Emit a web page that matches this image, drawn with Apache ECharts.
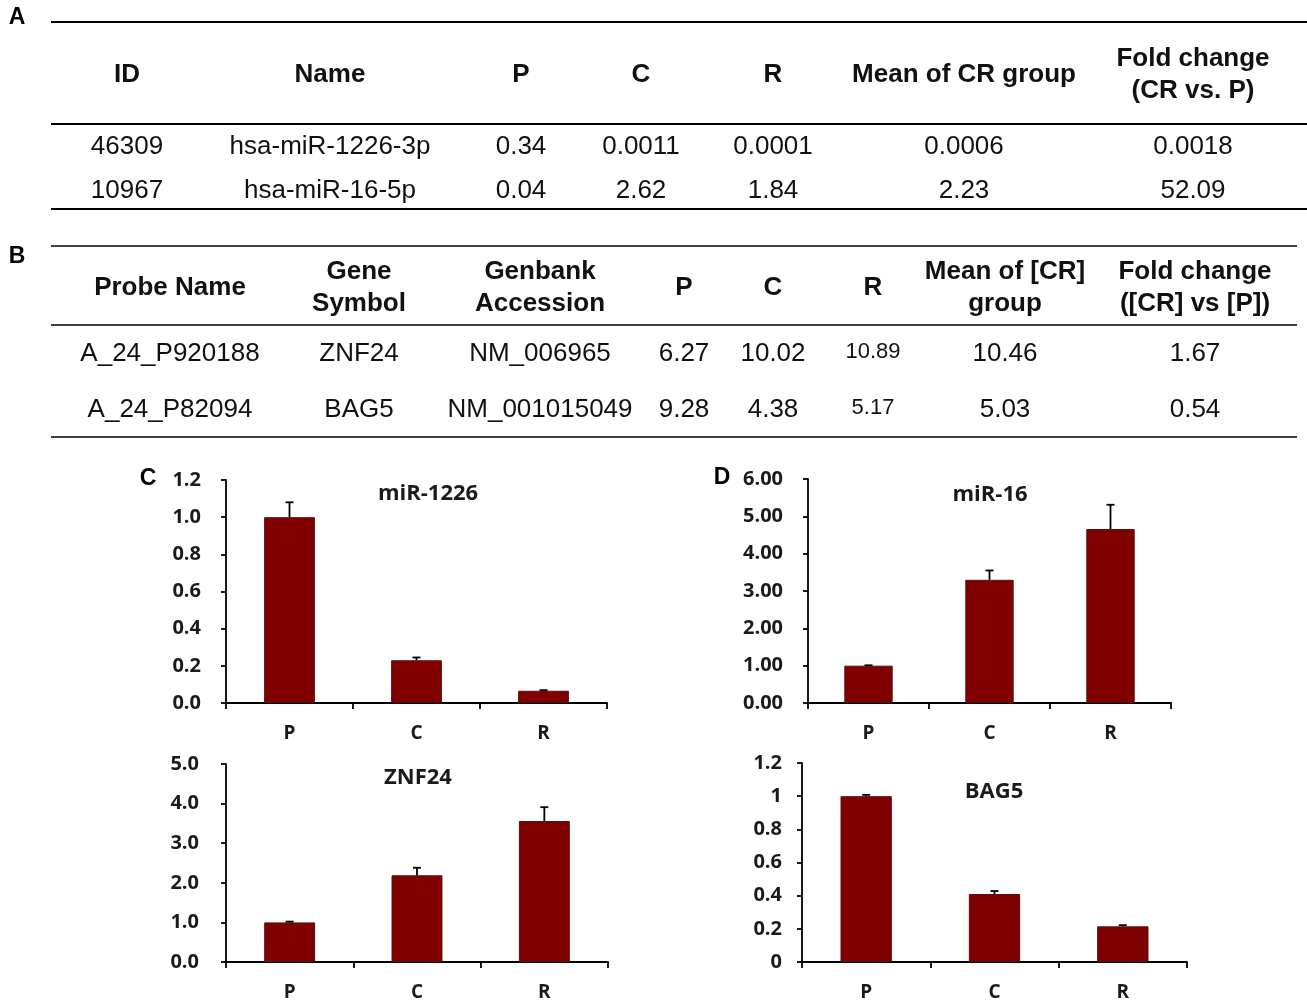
<!DOCTYPE html>
<html>
<head>
<meta charset="utf-8">
<script src="https://cdn.jsdelivr.net/npm/echarts@6/dist/echarts.min.js"></script>
<style>html,body{margin:0;padding:0;background:#fff}#main{width:1307px;height:1002px}</style>
</head>
<body>
<div id="main"></div>
<script>
// ---------- DATA ----------
const categories = ['P', 'C', 'R'];

const mir1226Values = [1.0, 0.23, 0.066];
const mir1226Errors = [0.08, 0.015, 0.003];

const mir16Values = [1.0, 3.30, 4.66];
const mir16Errors = [0.01, 0.25, 0.65];

const znf24Values = [1.0, 2.19, 3.56];
const znf24Errors = [0.02, 0.19, 0.35];

const bag5Values = [1.0, 0.41, 0.215];
const bag5Errors = [0.008, 0.018, 0.007];

const chartTitles = ['miR-1226', 'miR-16', 'ZNF24', 'BAG5'];

const tableAHeader = ['ID', 'Name', 'P', 'C', 'R', 'Mean of CR group', 'Fold change\n(CR vs. P)'];
const tableARow1 = ['46309', 'hsa-miR-1226-3p', '0.34', '0.0011', '0.0001', '0.0006', '0.0018'];
const tableARow2 = ['10967', 'hsa-miR-16-5p', '0.04', '2.62', '1.84', '2.23', '52.09'];

const tableBHeader = ['Probe Name', 'Gene\nSymbol', 'Genbank\nAccession', 'P', 'C', 'R', 'Mean of [CR]\ngroup', 'Fold change\n([CR] vs [P])'];
const tableBRow1 = ['A_24_P920188', 'ZNF24', 'NM_006965', '6.27', '10.02', '10.89', '10.46', '1.67'];
const tableBRow2 = ['A_24_P82094', 'BAG5', 'NM_001015049', '9.28', '4.38', '5.17', '5.03', '0.54'];

// ---------- LAYOUT ----------
const tableACols = [127, 330, 521, 641, 773, 964, 1193];
const tableBCols = [170, 359, 540, 684, 773, 873, 1005, 1195];
const smallColB = 5; // R column drawn in a smaller font

const FONT_T = '"Liberation Sans", Arial, Helvetica, sans-serif';
const FONT_C = '"Open Sans", "Noto Sans", sans-serif';
const BAR = '#800000';
const TXT = '#111';

const graphics = [];
function txt(s, x, y, size, bold, lh) {
  graphics.push({
    type: 'text', silent: true,
    style: {
      text: s, x: x, y: y, align: 'center', verticalAlign: 'middle',
      fontFamily: FONT_T, fontSize: size, fontWeight: bold ? 'bold' : 'normal',
      lineHeight: lh || size * 1.2, fill: TXT
    }
  });
}
function hline(x1, x2, y, w) {
  graphics.push({ type: 'line', silent: true, shape: { x1: x1, y1: y, x2: x2, y2: y }, style: { stroke: '#000', lineWidth: w || 2 } });
}
function letter(s, x, y) {
  graphics.push({ type: 'text', silent: true, style: { text: s, x: x, y: y, align: 'center', verticalAlign: 'middle', fontFamily: FONT_T, fontSize: 23, fontWeight: 'bold', fill: '#000' } });
}
// Table A
letter('A', 17, 18);
hline(51, 1307, 22, 2);
hline(51, 1307, 124, 2);
hline(51, 1307, 209, 2);
tableAHeader.forEach((h, i) => txt(h, tableACols[i], 75, 26, true, 32));
tableARow1.forEach((h, i) => txt(h, tableACols[i], 147, 26, false));
tableARow2.forEach((h, i) => txt(h, tableACols[i], 191, 26, false));
// Table B
letter('B', 17, 257);
hline(51, 1297, 246, 1.5);
hline(51, 1297, 325, 1.5);
hline(51, 1297, 437, 1.5);
tableBHeader.forEach((h, i) => txt(h, tableBCols[i], 288, 26, true, 32));
tableBRow1.forEach((h, i) => txt(h, tableBCols[i], i === smallColB ? 352 : 354, i === smallColB ? 22 : 26, false));
tableBRow2.forEach((h, i) => txt(h, tableBCols[i], i === smallColB ? 408 : 410, i === smallColB ? 22 : 26, false));
// Panel letters
letter('C', 148, 479);
letter('D', 722, 478);

const grids = [
  { left: 226, top: 480, width: 381, height: 223 },
  { left: 808, top: 479, width: 363, height: 224 },
  { left: 226, top: 764, width: 382, height: 199 },
  { left: 802, top: 763, width: 385, height: 200 }
];
const yCfg = [
  { max: 1.2, interval: 0.2, fmt: v => v.toFixed(1), margin: 25 },
  { max: 6, interval: 1, fmt: v => v.toFixed(2), margin: 25 },
  { max: 5, interval: 1, fmt: v => v.toFixed(1), margin: 27 },
  { max: 1.2, interval: 0.2, fmt: v => String(Math.round(v * 10) / 10), margin: 20 }
];
const titlePos = [[423, 493], [985, 494], [413, 777], [989, 791]];
const allValues = [mir1226Values, mir16Values, znf24Values, bag5Values];
const allErrors = [mir1226Errors, mir16Errors, znf24Errors, bag5Errors];

const axisLineStyle = { color: '#000', width: 1.8 };

const xAxes = grids.map((g, i) => ({
  type: 'category', gridIndex: i, data: categories,
  axisLine: { lineStyle: axisLineStyle },
  axisTick: { show: true, alignWithLabel: false, length: 6, lineStyle: axisLineStyle },
  axisLabel: { color: '#1a1a1a', fontFamily: FONT_C, fontWeight: 'bold', fontSize: 19, margin: 21 },
  splitLine: { show: false }
}));
const yAxes = grids.map((g, i) => ({
  type: 'value', gridIndex: i, min: 0, max: yCfg[i].max, interval: yCfg[i].interval,
  axisLine: { show: true, lineStyle: axisLineStyle },
  axisTick: { show: true, length: 5, lineStyle: axisLineStyle },
  axisLabel: { color: '#1a1a1a', fontFamily: FONT_C, fontWeight: 'bold', fontSize: 20, margin: yCfg[i].margin, formatter: yCfg[i].fmt },
  splitLine: { show: false }
}));

const series = [];
allValues.forEach((vals, i) => {
  series.push({
    type: 'bar', xAxisIndex: i, yAxisIndex: i, data: vals, barWidth: '40%',
    itemStyle: { color: BAR, borderColor: '#5a1010', borderWidth: 1 },
    silent: true, animation: false
  });
  series.push({
    type: 'custom', xAxisIndex: i, yAxisIndex: i, silent: true, animation: false, z: 5,
    data: vals.map((v, k) => [k, v, allErrors[i][k]]),
    renderItem: function (params, api) {
      const x = api.value(0), v = api.value(1), e = api.value(2);
      const p0 = api.coord([x, v]);
      const p1 = api.coord([x, v + e]);
      const cap = 4;
      return {
        type: 'group',
        children: [
          { type: 'line', shape: { x1: p0[0], y1: p0[1], x2: p1[0], y2: p1[1] }, style: { stroke: '#000', lineWidth: 1.8 } },
          { type: 'line', shape: { x1: p1[0] - cap, y1: p1[1], x2: p1[0] + cap, y2: p1[1] }, style: { stroke: '#000', lineWidth: 1.8 } }
        ]
      };
    }
  });
});

const titles = chartTitles.map((t, i) => ({
  text: t, left: titlePos[i][0], top: titlePos[i][1] - 15, textAlign: 'center',
  textStyle: { fontFamily: FONT_C, fontWeight: 'bold', fontSize: 22, color: '#1a1a1a' }
}));

const chart = echarts.init(document.getElementById('main'), null, { renderer: 'canvas' });
chart.setOption({
  animation: false,
  backgroundColor: '#fff',
  title: titles,
  grid: grids,
  xAxis: xAxes,
  yAxis: yAxes,
  series: series,
  graphic: graphics
});
</script>
</body>
</html>
